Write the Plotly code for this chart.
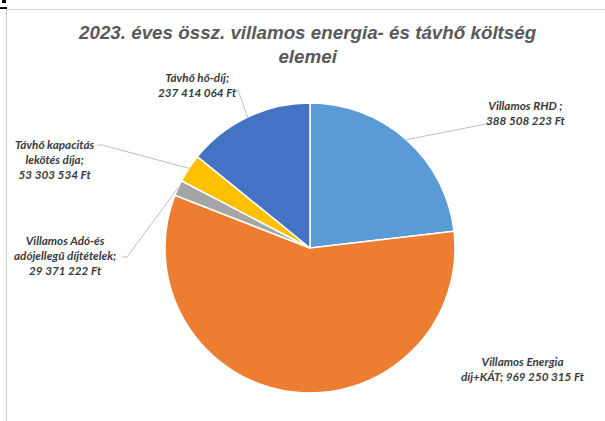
import math
import plotly.graph_objects as go

labels = ["Villamos RHD", "Villamos Energia díj+KÁT", "Villamos Adó-és adójellegű díjtételek",
          "Távhő kapacitás lekötés díja", "Távhő hő-díj"]
values = [388508223, 969250315, 29371222, 53303534, 237414064]
colors = ["#5B9BD5", "#ED7D31", "#A5A5A5", "#FFC000", "#4472C4"]
label_texts = [
    "Villamos RHD ;<br>388 508 223 Ft",
    "Villamos Energia<br>díj+KÁT; 969 250 315 Ft",
    "Villamos Adó-és<br>adójellegű díjtételek;<br>29 371 222 Ft",
    "Távhő kapacitás<br>lekötés díja;<br>53 303 534 Ft",
    "Távhő hő-díj;<br>237 414 064 Ft",
]
title_text = "2023. éves össz. villamos energia- és távhő költség<br>elemei"

W, H = 605, 421
cx, cy, R = 310, 248, 145

# label placement (pixels) and leader-line elbow (pixels); None = no leader
label_pos = [(526, 112), (523, 368), (65, 255), (55, 159), (197, 84)]
elbow = [(486, 124), None, (127, 257), (102, 145), (238, 90)]

fig = go.Figure(go.Pie(
    labels=labels, values=values, sort=False, direction="clockwise", rotation=0,
    marker=dict(colors=colors, line=dict(color="white", width=1.5)),
    textinfo="none", hoverinfo="label+value", showlegend=False,
    domain=dict(x=[(cx - R) / W, (cx + R) / W], y=[1 - (cy + R) / H, 1 - (cy - R) / H]),
))

def px(x):
    return x / W

def py(y):
    return 1 - y / H

total = sum(values)
cum = 0
shapes = []
annotations = []
for i, v in enumerate(values):
    mid = (cum + v / 2) / total * 2 * math.pi
    cum += v
    ex = cx + R * math.sin(mid)
    ey = cy - R * math.cos(mid)
    lx, ly = label_pos[i]
    annotations.append(dict(
        x=px(lx), y=py(ly), xref="paper", yref="paper", text=label_texts[i],
        showarrow=False, xanchor="center", yanchor="middle", align="center",
        font=dict(family="Lato, sans-serif", size=11.7,
                  color="#3A3A3A", weight="bold", style="italic"),
    ))
    if elbow[i] is not None:
        bx, by = elbow[i]
        sx = bx + (5 if lx > bx else -5)
        shapes.append(dict(
            type="path", xref="paper", yref="paper",
            path=f"M {px(sx)} {py(by)} L {px(bx)} {py(by)} L {px(ex)} {py(ey)}",
            line=dict(color="#BFBFBF", width=1),
        ))

annotations.append(dict(
    x=px(308), y=py(44), xref="paper", yref="paper", text=title_text, showarrow=False,
    xanchor="center", yanchor="middle", align="center",
    font=dict(family="Liberation Sans, Arial, sans-serif", size=18.8, color="#595959",
              weight="bold", style="italic"),
))

# frame lines
shapes.append(dict(type="line", xref="paper", yref="paper", x0=px(6.5), x1=px(6.5),
                   y0=py(9), y1=0, line=dict(color="#D0D0D0", width=1)))
shapes.append(dict(type="line", xref="paper", yref="paper", x0=px(6), x1=1,
                   y0=py(9.5), y1=py(9.5), line=dict(color="#D0D0D0", width=1)))
shapes.append(dict(type="rect", xref="paper", yref="paper", x0=0, x1=px(7),
                   y0=py(9), y1=py(7), fillcolor="black", line=dict(width=0)))
shapes.append(dict(type="rect", xref="paper", yref="paper", x0=px(2), x1=px(6),
                   y0=py(3), y1=py(0), fillcolor="black", line=dict(width=0)))

fig.update_layout(
    width=W, height=H, margin=dict(l=0, r=0, t=0, b=0),
    paper_bgcolor="white", plot_bgcolor="white",
    shapes=shapes, annotations=annotations,
)
fig.write_html("out.html")
